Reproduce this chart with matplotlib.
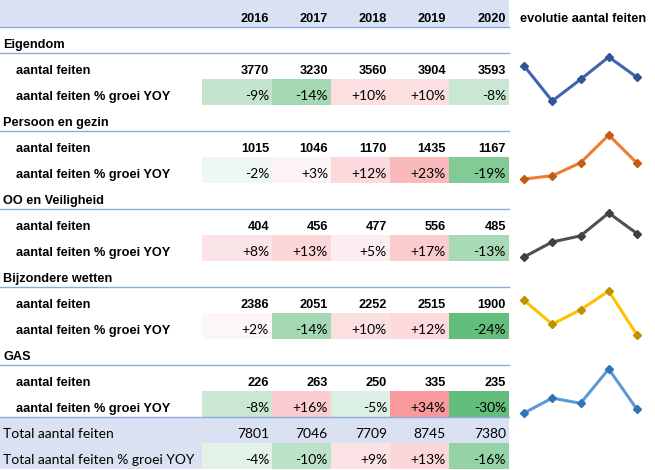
import matplotlib.pyplot as plt
import matplotlib.colors as mcolors
import numpy as np

years = ['2016', '2017', '2018', '2019', '2020']
categories = ['Eigendom', 'Persoon en gezin', 'OO en Veiligheid', 'Bijzondere wetten', 'GAS']

eigendom = [3770, 3230, 3560, 3904, 3593]
persoon = [1015, 1046, 1170, 1435, 1167]
oo_veiligheid = [404, 456, 477, 556, 485]
bijzondere = [2386, 2051, 2252, 2515, 1900]
gas = [226, 263, 250, 335, 235]
totaal = [7801, 7046, 7709, 8745, 7380]

eigendom_pct = [-9, -14, 10, 10, -8]
persoon_pct = [-2, 3, 12, 23, -19]
oo_veiligheid_pct = [8, 13, 5, 17, -13]
bijzondere_pct = [2, -14, 10, 12, -24]
gas_pct = [-8, 16, -5, 34, -30]
totaal_pct = [-4, -10, 9, 13, -16]

counts = [eigendom, persoon, oo_veiligheid, bijzondere, gas]
pcts = [eigendom_pct, persoon_pct, oo_veiligheid_pct, bijzondere_pct, gas_pct]

spark_line = ['#3F65B0', '#ED7D31', '#505050', '#FFC000', '#5B9BD5']
spark_mark = ['#2F5597', '#C55A11', '#404040', '#BF9000', '#2E75B6']

W, H = 655, 470
ROW = 26
HEAD = 27
col_left = [202, 272, 331, 390, 449]
col_right = [272, 331, 390, 449, 509]
TABLE_R = 509

band = '#D9E1F2'
rule = '#8EA9DB'

# excel-like 3 colour scale: green - white - red
cmap = mcolors.LinearSegmentedColormap.from_list('gwr', ['#63BE7B', '#FCFCFF', '#F8696B'])
norm = mcolors.TwoSlopeNorm(vmin=-24, vcenter=0, vmax=51)

bold_font = dict(family='Liberation Sans', fontweight='bold', fontsize=9.2)
reg_font = dict(family='Lato', fontsize=10.0)

fig = plt.figure(figsize=(W / 100, H / 100), dpi=100)
ax = fig.add_axes([0, 0, 1, 1])
ax.set_xlim(0, W)
ax.set_ylim(H, 0)
ax.axis('off')


def base(top):
    return top + ROW - 5


# header
ax.add_patch(plt.Rectangle((0, 0), TABLE_R, HEAD, color=band, lw=0))
ax.plot([0, TABLE_R], [HEAD, HEAD], color=rule, lw=1)
for j, yr in enumerate(years):
    ax.text(col_right[j] - 3, HEAD - 5, yr, ha='right', va='baseline', **bold_font)
ax.text(520, HEAD - 5, 'evolutie aantal feiten', ha='left', va='baseline', **bold_font)

top = HEAD
for i, cat in enumerate(categories):
    # category header row
    ax.text(3, base(top), cat, ha='left', va='baseline', **bold_font)
    ax.plot([0, TABLE_R], [top + ROW, top + ROW], color=rule, lw=1)
    top += ROW
    spark_top = top
    # counts row
    ax.text(16, base(top), 'aantal feiten', ha='left', va='baseline', **bold_font)
    for j, v in enumerate(counts[i]):
        ax.text(col_right[j] - 3, base(top), str(v), ha='right', va='baseline', **bold_font)
    top += ROW
    # growth row
    ax.text(16, base(top), 'aantal feiten % groei YOY', ha='left', va='baseline', **bold_font)
    for j, p in enumerate(pcts[i]):
        ax.add_patch(plt.Rectangle((col_left[j], top), col_right[j] - col_left[j], ROW,
                                   color=cmap(norm(p)), lw=0))
        ax.text(col_right[j] - 3, base(top), f'{p:+d}%', ha='right', va='baseline', **reg_font)
    top += ROW
    # sparkline
    y0 = spark_top + 4
    y1 = top - 4
    sax = fig.add_axes([524 / W, 1 - y1 / H, (637 - 524) / W, (y1 - y0) / H])
    sax.plot(range(len(years)), counts[i], color=spark_line[i], lw=2.2,
             marker='D', ms=4.5, mfc=spark_mark[i], mec=spark_mark[i],
             solid_capstyle='round', clip_on=False)
    sax.set_xlim(0, 4)
    sax.margins(y=0)
    sax.axis('off')

# totals
ax.add_patch(plt.Rectangle((0, top), TABLE_R, ROW, color=band, lw=0))
ax.add_patch(plt.Rectangle((0, top + ROW), col_left[0], ROW, color=band, lw=0))
ax.plot([0, TABLE_R], [top, top], color=rule, lw=1)
ax.text(3, base(top), 'Total aantal feiten', ha='left', va='baseline', **reg_font)
for j, v in enumerate(totaal):
    ax.text(col_right[j] - 3, base(top), str(v), ha='right', va='baseline', **reg_font)
top += ROW
ax.text(3, base(top), 'Total aantal feiten % groei YOY', ha='left', va='baseline', **reg_font)
for j, p in enumerate(totaal_pct):
    ax.add_patch(plt.Rectangle((col_left[j], top), col_right[j] - col_left[j], ROW,
                               color=cmap(norm(p)), lw=0))
    ax.text(col_right[j] - 3, base(top), f'{p:+d}%', ha='right', va='baseline', **reg_font)

fig.savefig('out.png', dpi=100)
